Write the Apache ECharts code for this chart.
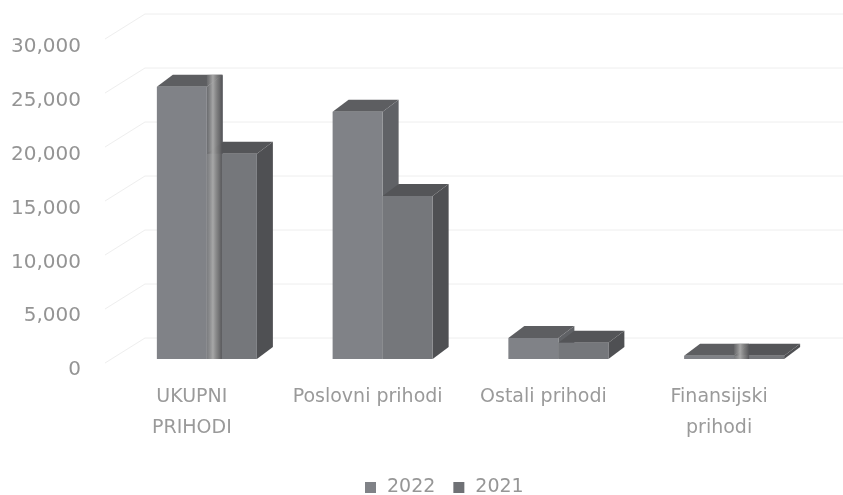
<!DOCTYPE html>
<html>
<head>
<meta charset="utf-8">
<style>html,body{margin:0;padding:0;background:#fff;overflow:hidden}#c{width:843px;height:495px;filter:blur(0.45px)}</style>
<script src="https://cdn.jsdelivr.net/npm/echarts@6/dist/echarts.min.js"></script>
</head>
<body>
<div id="c"></div>
<script>
const categories = ['UKUPNI\nPRIHODI', 'Poslovni prihodi', 'Ostali prihodi', 'Finansijski\nprihodi'];
const values2022 = [25200, 22900, 1950, 300];
const values2021 = [19000, 15100, 1500, 300];
const yTicks = [0, 5000, 10000, 15000, 20000, 25000, 30000];
const glareCategories = [0, 3];

const chart = echarts.init(document.getElementById('c'), null, {renderer: 'canvas'});
const DX = 16, DY = 12, BAR_RATIO = 50 / 175.7;
const FONT = '"DejaVu Sans", sans-serif';

function barRender(side, front, top, sideCol) {
  return function (params, api) {
    const c = api.coord([api.value(0), api.value(1)]);
    const base = api.coord([api.value(0), 0]);
    const w = api.size([1, 0])[0] * BAR_RATIO;
    const x0 = side < 0 ? c[0] - w : c[0];
    const x1 = x0 + w, yT = c[1], yB = base[1];
    return {
      type: 'group',
      children: [
        {type: 'polygon', shape: {points: [[x1, yT], [x1 + DX, yT - DY], [x1 + DX, yB - DY], [x1, yB]]}, style: {fill: sideCol}},
        {type: 'polygon', shape: {points: [[x0, yT], [x0 + DX, yT - DY], [x1 + DX, yT - DY], [x1, yT]]}, style: {fill: top}},
        {type: 'rect', shape: {x: x0, y: yT, width: w, height: yB - yT}, style: {fill: front}}
      ]
    };
  };
}

chart.setOption({
  animation: false,
  backgroundColor: '#ffffff',
  grid: [
    {left: 119, right: 21, top: 35, bottom: 136},
    {left: 119, right: 21, top: 47, bottom: 125}
  ],
  legend: {
    data: ['2022', '2021'],
    left: 360,
    top: 473,
    icon: 'rect',
    itemWidth: 11,
    itemHeight: 11,
    itemGap: 18,
    textStyle: {color: '#969696', fontSize: 19, fontFamily: FONT, padding: [0, 0, 0, 6]}
  },
  xAxis: [{
    type: 'category',
    data: categories,
    axisLine: {show: false},
    axisTick: {show: false},
    splitLine: {show: false},
    axisLabel: {
      interval: 0, color: '#9a9a9a', fontSize: 19, fontFamily: FONT,
      lineHeight: 31, margin: 23, padding: [0, 30, 0, 0]
    }
  }, {
    type: 'category', gridIndex: 1, data: categories, show: false
  }],
  yAxis: [{
    type: 'value',
    min: 0, max: 30000, interval: 5000,
    axisLine: {show: false},
    axisTick: {show: false},
    splitLine: {show: false},
    axisLabel: {show: false}
  }, {
    type: 'value', gridIndex: 1,
    min: 0, max: 30000, interval: 5000,
    axisLine: {show: false},
    axisTick: {show: false},
    splitLine: {show: false},
    axisLabel: {
      color: '#949494', fontSize: 20, fontFamily: FONT, margin: 38,
      formatter: v => v.toLocaleString('en-US')
    }
  }],
  series: [
    {
      name: 'walls', type: 'custom', silent: true, z: 1,
      data: yTicks.map(v => [0, v]),
      encode: {x: 0, y: 1},
      renderItem: function (params, api) {
        const c = api.coord([0, api.value(1)]);
        const g = params.coordSys;
        const y = c[1];
        return {
          type: 'polyline',
          shape: {points: [[g.x - 14, y + 4], [g.x + 26, y - 21], [g.x + g.width + 21, y - 21]]},
          style: {stroke: '#eeeeee', lineWidth: 1, fill: null}
        };
      }
    },
    {
      name: '2022', type: 'custom', z: 2,
      itemStyle: {color: '#808287'},
      data: values2022.map((v, i) => [i, v]),
      encode: {x: 0, y: 1},
      renderItem: barRender(-1, '#808287', '#5d5e61', '#606266')
    },
    {
      name: '2021', type: 'custom', z: 3,
      itemStyle: {color: '#6f7175'},
      data: values2021.map((v, i) => [i, v]),
      encode: {x: 0, y: 1},
      renderItem: barRender(1, '#75777b', '#545558', '#4f5053')
    },
    {
      name: 'glare', type: 'custom', silent: true, z: 4,
      data: glareCategories.map(i => [i, values2022[i]]),
      encode: {x: 0, y: 1},
      renderItem: function (params, api) {
        const c = api.coord([api.value(0), api.value(1)]);
        const base = api.coord([api.value(0), 0]);
        return {
          type: 'rect',
          shape: {x: c[0], y: c[1] - DY, width: DX - 1, height: base[1] - c[1] + DY},
          style: {
            fill: new echarts.graphic.LinearGradient(0, 0, 1, 0, [
              {offset: 0, color: 'rgba(150,150,150,0.2)'},
              {offset: 0.4, color: 'rgba(170,170,170,0.95)'},
              {offset: 0.7, color: 'rgba(130,130,130,0.8)'},
              {offset: 1, color: 'rgba(85,85,88,0.9)'}
            ])
          }
        };
      }
    }
  ]
});
</script>
</body>
</html>
